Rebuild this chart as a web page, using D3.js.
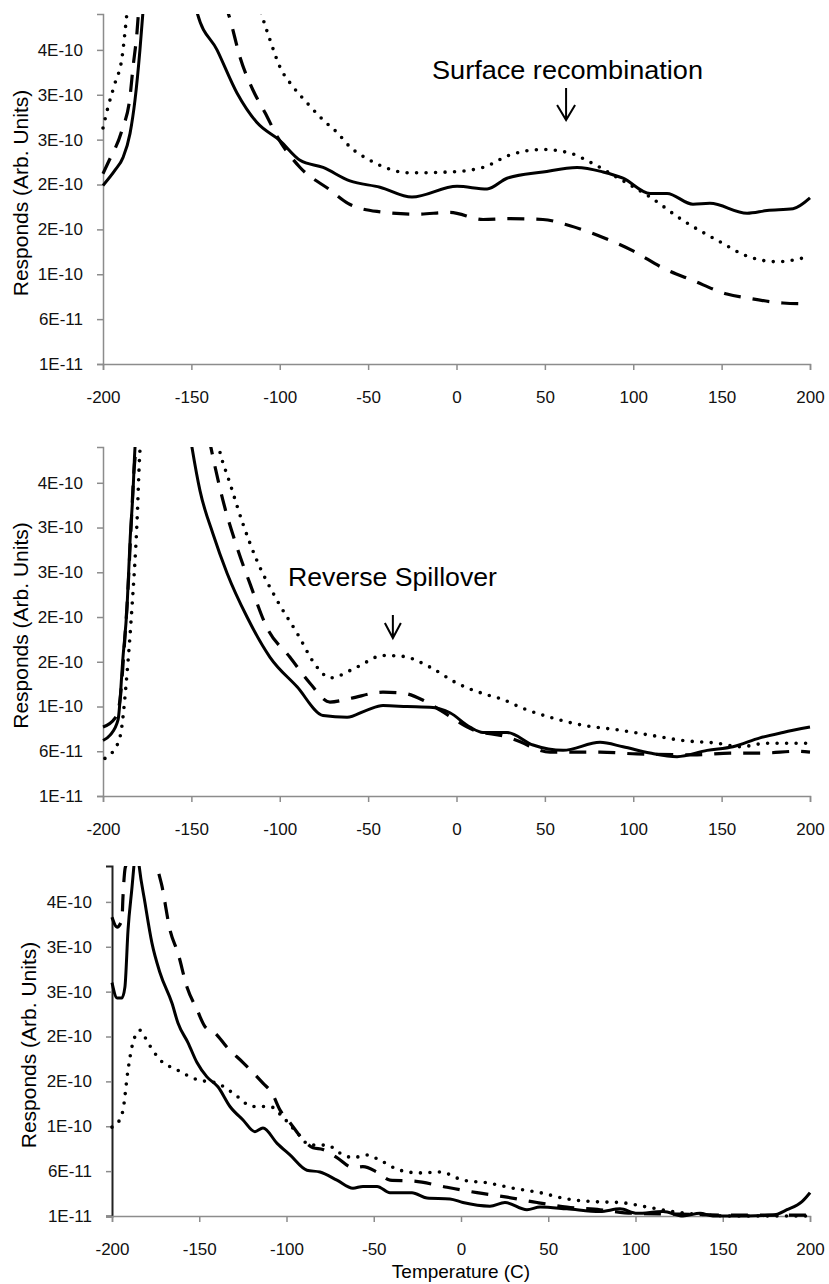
<!DOCTYPE html>
<html><head><meta charset="utf-8">
<script src="https://cdn.jsdelivr.net/npm/d3@7"></script>
<style>body{margin:0;background:#fff} svg{display:block} text{font-family:"Liberation Sans",Arial,Helvetica,sans-serif}</style>
</head><body><svg id="c" width="829" height="1284"></svg>
<script>
// ---- axes / labels ----
const xTicks = [-200, -150, -100, -50, 0, 50, 100, 150, 200];
const yTickValues = [1e-11, 6e-11, 1.1e-10, 1.6e-10, 2.1e-10, 2.6e-10, 3.1e-10, 3.6e-10];
const xDomain = [-200, 200];
const yDomain = [1e-11, 4e-10];
const yTitle = "Responds (Arb. Units)";
const xTitle = "Temperature (C)";
const annoText = ["Surface recombination", "Reverse Spillover"];
const annoTemp = [62, -36];
const UNIT = 1e-10; // series values below are in units of 1E-10

// ---- panel 1 ----
const p1Solid = [[-200,2.09],[-193.2,2.26],[-188.7,2.40],[-184.7,2.67],[-181.9,3.04],[-179.1,3.60],[-177.4,4.02],[-172,5.0],[-162,5.6],[-152,4.6],[-146.8,4.02],[-135.5,3.60],[-124.2,3.12],[-112.9,2.79],[-99.9,2.59],[-88.5,2.37],[-75.5,2.29],[-60.3,2.14],[-43.3,2.07],[-25.2,1.96],[0.3,2.08],[17.3,2.05],[28.6,2.17],[48.9,2.24],[68.2,2.29],[82.9,2.24],[94.2,2.17],[109.5,2.00],[119.1,2.00],[133.8,1.88],[143.4,1.89],[164.4,1.78],[175.7,1.81],[190.4,1.83],[200,1.95]];
const p1Dashed = [[-200,2.22],[-197.2,2.34],[-189.2,2.71],[-184.7,3.08],[-183.0,3.41],[-180.8,3.79],[-179.9,4.02],[-170,5.2],[-150,5.6],[-135,4.6],[-129.3,4.02],[-128.1,3.94],[-122.5,3.52],[-115.1,3.15],[-108.3,2.90],[-101.0,2.62],[-88.5,2.29],[-71.6,2.04],[-61.4,1.89],[-45.0,1.80],[-22.4,1.77],[-3.7,1.79],[15.0,1.71],[30.3,1.72],[48.9,1.71],[64.2,1.64],[82.9,1.51],[99.9,1.36],[116.8,1.17],[133.8,1.03],[153.0,0.88],[166.1,0.83],[184.7,0.78],[200,0.77]];
const p1Dotted = [[-200,2.73],[-197.2,2.96],[-193.2,3.23],[-189.2,3.52],[-187.6,3.79],[-186.4,4.02],[-178,5.2],[-150,6.0],[-120,4.8],[-110.6,4.02],[-105.5,3.71],[-99.9,3.41],[-92.5,3.19],[-84.6,3.01],[-75.5,2.82],[-67.6,2.68],[-60.3,2.52],[-48.9,2.37],[-26.3,2.23],[-3.7,2.24],[15.0,2.29],[30.3,2.43],[48.9,2.49],[64.2,2.45],[75.5,2.35],[90.8,2.18],[109.5,1.96],[128.1,1.70],[147.4,1.48],[166.1,1.29],[181.3,1.24],[200,1.30]];

// ---- panel 2 ----
const p2Solid = [[-200,0.72],[-196,0.78],[-191.5,0.95],[-188.7,1.65],[-186.4,2.21],[-184.7,2.95],[-183.0,3.51],[-181.9,3.99],[-175,5.0],[-165,5.5],[-155,4.7],[-149.6,3.99],[-145.1,3.51],[-137.8,3.03],[-129.8,2.59],[-118.5,2.10],[-105.5,1.65],[-90.2,1.32],[-75.5,1.00],[-61.9,0.98],[-50.6,1.06],[-41.6,1.11],[-28.0,1.10],[-13.3,1.09],[-3.7,1.03],[7.6,0.87],[15.0,0.81],[28.6,0.81],[43.3,0.67],[60.3,0.61],[81.2,0.70],[94.2,0.65],[109.5,0.58],[124.8,0.54],[141.8,0.61],[156.4,0.65],[171.7,0.75],[184.7,0.81],[200,0.87]];
const p2Dashed = [[-200,0.87],[-193.2,0.97],[-190.4,1.17],[-188.1,1.73],[-185.9,2.40],[-184.2,3.07],[-182.5,3.73],[-181.3,3.99],[-175,5.0],[-160,5.6],[-145,4.6],[-138.9,3.99],[-132.1,3.40],[-124.2,2.88],[-116.8,2.47],[-107.2,1.98],[-94.2,1.65],[-82.9,1.36],[-71.6,1.15],[-60.3,1.19],[-41.6,1.26],[-30.3,1.25],[-18.9,1.17],[-9.3,1.06],[9.3,0.84],[28.6,0.76],[34.2,0.72],[52.9,0.59],[81.2,0.59],[102.1,0.57],[136.1,0.56],[154.7,0.58],[173.4,0.58],[192.6,0.60],[200,0.59]];
const p2Dotted = [[-198.9,0.52],[-196.0,0.56],[-190.4,0.76],[-186.4,1.47],[-183.6,2.21],[-180.8,3.14],[-179.1,3.96],[-172,5.0],[-155,5.6],[-140,4.6],[-134.4,3.99],[-128.1,3.59],[-120.8,3.14],[-112.9,2.73],[-101.6,2.29],[-90.2,1.92],[-78.9,1.54],[-71.6,1.42],[-56.3,1.54],[-41.6,1.67],[-30.3,1.66],[-15.0,1.54],[0.3,1.36],[17.3,1.23],[24.6,1.19],[37.6,1.08],[52.9,0.98],[71.6,0.89],[90.8,0.84],[109.5,0.78],[128.1,0.72],[147.4,0.69],[160.4,0.65],[175.7,0.69],[200,0.69]];

// ---- panel 3 ----
const p3Solid = [[-200,2.70],[-197.1,2.53],[-194.3,2.53],[-192.6,2.65],[-190.8,3.29],[-188.5,3.77],[-187.4,4.01],[-186,4.3],[-184.5,4.01],[-181.1,3.59],[-177.1,3.14],[-172.5,2.81],[-165.6,2.47],[-162.2,2.25],[-156.4,2.03],[-151.3,1.81],[-145.6,1.65],[-139.3,1.54],[-132.4,1.32],[-124.9,1.17],[-118.1,1.04],[-113.5,1.08],[-105.4,0.91],[-98.0,0.78],[-88.3,0.61],[-80.8,0.59],[-71.1,0.50],[-61.9,0.41],[-56.2,0.43],[-48.1,0.43],[-40.7,0.36],[-28.1,0.36],[-19.5,0.30],[-6.3,0.29],[1.1,0.25],[16.6,0.21],[25.2,0.25],[37.8,0.17],[45.3,0.20],[60.7,0.18],[79.7,0.15],[91.1,0.18],[100.9,0.13],[115.8,0.15],[127.2,0.10],[137.0,0.13],[144.4,0.10],[163.9,0.10],[178.8,0.11],[186.8,0.17],[195.4,0.26],[200,0.36]];
const p3Dashed = [[-200,3.43],[-197.1,3.32],[-194.3,3.40],[-193.7,3.66],[-192.6,3.96],[-192.0,4.01],[-188,4.6],[-182,4.8],[-177,4.4],[-174.2,4.01],[-171.3,3.77],[-166.8,3.29],[-162.2,3.03],[-157.0,2.65],[-151.3,2.40],[-146.7,2.21],[-141.0,2.14],[-134.1,1.98],[-124.9,1.81],[-119.8,1.71],[-113.5,1.58],[-108.3,1.47],[-103.7,1.28],[-98.0,1.14],[-90.5,0.95],[-84.8,0.86],[-79.1,0.84],[-71.1,0.75],[-61.9,0.64],[-56.2,0.65],[-48.1,0.59],[-40.7,0.50],[-27.5,0.49],[-8.0,0.42],[9.2,0.36],[26.4,0.31],[43.6,0.25],[60.7,0.20],[79.7,0.17],[98.6,0.13],[125.5,0.12],[154.2,0.11],[182.8,0.11],[200,0.11]];
const p3Dotted = [[-200,1.09],[-196.6,1.14],[-193.7,1.28],[-190.8,1.73],[-188.0,2.03],[-184.0,2.17],[-179.4,2.03],[-172.5,1.84],[-162.8,1.73],[-151.3,1.62],[-139.8,1.58],[-130.7,1.47],[-119.2,1.32],[-109.5,1.32],[-102.0,1.20],[-94.0,1.03],[-86.5,0.89],[-76.8,0.89],[-69.3,0.80],[-61.9,0.75],[-53.9,0.78],[-46.4,0.72],[-35.0,0.61],[-23.5,0.58],[-12.0,0.59],[1.1,0.50],[14.9,0.47],[29.8,0.41],[45.3,0.36],[60.7,0.29],[75.6,0.26],[91.1,0.25],[106.6,0.20],[121.5,0.15],[135.2,0.12],[154.2,0.10],[182.8,0.10],[200,0.10]];

// ---- layout ----
const panels = [
  {left:103, right:810, top:14,  bottom:364,  titleX:28, series:[p1Solid,p1Dashed,p1Dotted], anno:0},
  {left:103, right:810, top:447, bottom:796,  titleX:28, series:[p2Solid,p2Dashed,p2Dotted], anno:1},
  {left:112, right:810, top:866, bottom:1216, titleX:36, series:[p3Solid,p3Dashed,p3Dotted], anno:-1, darkY:true}
];
const styles = [
  {w:3,   dash:null,    cap:"butt"},
  {w:3.2, dash:"17,12", cap:"butt"},
  {w:3.6, dash:"0,9.5", cap:"round"}
];
const axisColor = "#8c8c8c";
const svg = d3.select("#c");
const fmt = d => d3.format(".0e")(d).toUpperCase();

panels.forEach((p, i) => {
  const x = d3.scaleLinear().domain(xDomain).range([p.left, p.right]);
  const y = d3.scaleLinear().domain(yDomain).range([p.bottom, p.top]);
  const g = svg.append("g");

  const clipId = "clip" + i;
  svg.append("defs").append("clipPath").attr("id", clipId)
    .append("rect").attr("x", p.left - 4).attr("y", p.top)
    .attr("width", p.right - p.left + 8).attr("height", p.bottom - p.top + 4);

  // axes
  const ya = g.append("g").attr("transform", `translate(${p.left},0)`)
    .call(d3.axisLeft(y).tickValues(yTickValues).tickFormat(fmt).tickSizeOuter(0).tickSize(6).tickPadding(14));
  const xa = g.append("g").attr("transform", `translate(0,${p.bottom})`)
    .call(d3.axisBottom(x).tickValues(xTicks).tickFormat(d => String(d)).tickSizeOuter(0).tickSize(6).tickPadding(21));
  [ya, xa].forEach(a => {
    a.select(".domain").attr("stroke", axisColor).attr("stroke-width", 1.5);
    a.selectAll(".tick line").attr("stroke", axisColor).attr("stroke-width", 1.5);
    a.selectAll("text").attr("fill", "#111").attr("font-size", 17)
      .attr("font-family", '"Liberation Sans",Arial,sans-serif');
  });
  if (p.darkY) ya.select(".domain").attr("stroke", "#222").attr("stroke-width", 2);

  // y title
  g.append("text")
    .attr("transform", `translate(${p.titleX},${(p.top + p.bottom) / 2 + 4}) rotate(-90)`)
    .attr("text-anchor", "middle").attr("font-size", 21).attr("fill", "#000")
    .text(yTitle);

  // series
  const line = d3.line().x(d => x(d[0])).y(d => y(d[1] * UNIT)).curve(d3.curveMonotoneX);
  const lg = g.append("g").attr("clip-path", `url(#${clipId})`);
  p.series.forEach((s, k) => {
    const st = styles[k];
    lg.append("path").datum(s).attr("d", line)
      .attr("fill", "none").attr("stroke", "#000")
      .attr("stroke-width", st.w).attr("stroke-linecap", st.cap)
      .attr("stroke-linejoin", "round")
      .attr("stroke-dasharray", st.dash);
  });

  // annotations
  if (p.anno === 0) {
    const ax = x(annoTemp[0]);
    g.append("text").attr("x", 432).attr("y", 79).attr("font-size", 26)
      .attr("textLength", 271).attr("lengthAdjust", "spacingAndGlyphs").text(annoText[0]);
    g.append("path").attr("d", `M${ax},88 L${ax},120 M${ax-9},105 L${ax},120 L${ax+9},105`)
      .attr("fill", "none").attr("stroke", "#000").attr("stroke-width", 2);
  } else if (p.anno === 1) {
    const ax = x(annoTemp[1]);
    g.append("text").attr("x", 288).attr("y", 586).attr("font-size", 25)
      .attr("textLength", 209).attr("lengthAdjust", "spacingAndGlyphs").text(annoText[1]);
    g.append("path").attr("d", `M${ax},615 L${ax},638 M${ax-8},623 L${ax},638 L${ax+8},623`)
      .attr("fill", "none").attr("stroke", "#000").attr("stroke-width", 2);
  }
  if (i === 2) {
    g.append("text").attr("x", (p.left + p.right) / 2).attr("y", 1278)
      .attr("text-anchor", "middle").attr("font-size", 19).text(xTitle);
  }
});
</script></body></html>
